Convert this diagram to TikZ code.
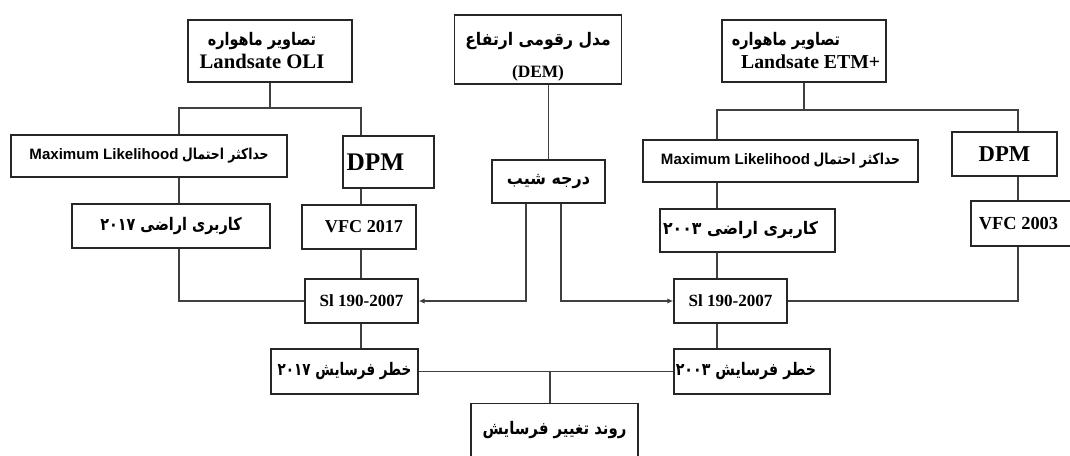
\documentclass[tikz,border=0pt]{standalone}
\usepackage{fontspec}
\usepackage{graphicx}
\setmainfont{Liberation Serif}
\newfontfamily\fa[Script=Arabic]{DejaVu Sans}
\newfontfamily\lsans{Liberation Sans}
\TeXXeTstate=1
\usetikzlibrary{arrows.meta}
\newcommand{\fab}[2]{\scalebox{#1}[1]{\fa\bfseries #2}}
\begin{document}
\begin{tikzpicture}[x=0.75pt,y=-0.75pt,
  bx/.style 2 args={draw=black!85, line width=1pt, inner sep=0pt, align=center,
     minimum width=#1*0.75pt, minimum height=#2*0.75pt},
  ln/.style={draw=black!75, line width=0.9pt},
  arr/.style={ln, -{Latex[length=4.5pt,width=4pt]}},
]
\useasboundingbox (0,0) rectangle (1070,456);
\clip (0,0) rectangle (1070,456);

% top row
\node[bx={164}{62}, font=\fontsize{13}{17.25}\selectfont] (oli) at (270,51)
  {\fab{0.83}{\beginR تصاویر ماهواره\endR}\hspace*{12pt}\\
   \fontsize{15.5}{17.25}\selectfont\bfseries Landsate OLI\hspace*{12pt}};
\node[bx={167}{69}, font=\fontsize{13}{24}\selectfont] (dem) at (538,49.5)
  {\rule{0pt}{21pt}\fab{0.9}{\beginR مدل رقومی ارتفاع\endR}\\
   \fontsize{13}{24}\selectfont\bfseries (DEM)};
\node[bx={164}{62}, font=\fontsize{13}{17.25}\selectfont] (etm) at (804,51)
  {\fab{0.83}{\beginR تصاویر ماهواره\endR}\hspace*{27pt}\\
   \fontsize{14.8}{17.25}\selectfont\hspace*{10pt}\bfseries Landsate ETM+};

% second row
\node[bx={276}{42}, font=\fontsize{11.3}{12}\selectfont] (mlL) at (149,156)
  {{\lsans\bfseries Maximum Likelihood} \fab{0.82}{\beginR حداکثر احتمال\endR}};
\node[bx={91}{52}, font=\fontsize{19}{19}\selectfont] (dpmL) at (388.5,162)
  {\bfseries DPM\hspace*{19.5pt}};
\node[bx={113}{43}, font=\fontsize{13}{13}\selectfont] (slope) at (548.5,181.5)
  {\fab{0.92}{\beginR درجه شیب\endR}};
\node[bx={275}{42}, font=\fontsize{11.3}{12}\selectfont] (mlR) at (780.5,161)
  {{\lsans\bfseries Maximum Likelihood} \fab{0.82}{\beginR حداکثر احتمال\endR}};
\node[bx={105}{44}, font=\fontsize{17}{17}\selectfont] (dpmR) at (1004.5,154)
  {\bfseries DPM};

% third row
\node[bx={198}{44}, font=\fontsize{13}{13}\selectfont] (luL) at (171,226)
  {\fab{0.83}{\beginR کاربری اراضی ۲۰۱۷\endR}};
\node[bx={114}{44}, font=\fontsize{13.6}{14}\selectfont] (vfcL) at (359,227)
  {\hspace*{7.5pt}\bfseries VFC 2017};
\node[bx={175}{43}, font=\fontsize{13}{13}\selectfont] (luR) at (747.5,230.5)
  {\fab{0.91}{\beginR کاربری اراضی ۲۰۰۳\endR}\hspace*{10.5pt}};
\node[bx={139}{45}, font=\fontsize{13.8}{14}\selectfont] (vfcR) at (1040.5,223.5)
  {\bfseries VFC 2003\hspace*{33pt}};

% SI row
\node[bx={113}{44}, font=\fontsize{12.8}{13}\selectfont] (siL) at (361.5,301)
  {\bfseries Sl 190-2007};
\node[bx={113}{44}, font=\fontsize{12.8}{13}\selectfont] (siR) at (730.5,301)
  {\bfseries Sl 190-2007};

% risk row
\node[bx={147}{45}, font=\fontsize{13}{13}\selectfont] (riskL) at (344.5,371.5)
  {\fab{0.78}{\beginR خطر فرسایش ۲۰۱۷\endR}};
\node[bx={156}{45}, font=\fontsize{13}{13}\selectfont] (riskR) at (752,371.5)
  {\fab{0.82}{\beginR خطر فرسایش ۲۰۰۳\endR}\hspace*{9pt}};

% final
\node[bx={167}{70}, anchor=north] (trend) at (554.5,403) {};
\node[inner sep=0pt, font=\fontsize{13}{13}\selectfont] (trendtext) at (554.5,430)
  {\fab{0.86}{\beginR روند تغییر فرسایش\endR}};

% bus coordinates
\coordinate (bL1) at (179,108);
\coordinate (bL2) at (361,108);
\coordinate (bR1) at (717,110);
\coordinate (bR2) at (1018,110);
\coordinate (sa) at (526,0);
\coordinate (sb) at (561,0);
\coordinate (tj) at (550,371.5);

% left branch
\draw[ln] (oli.south) -- (oli.south |- bL1);
\draw[ln] (bL1 |- mlL.north) -- (bL1) -- (bL2) -- (bL2 |- dpmL.north);
\draw[ln] (bL1 |- mlL.south) -- (bL1 |- luL.north);
\draw[ln] (bL2 |- dpmL.south) -- (bL2 |- vfcL.north);
\draw[ln] (bL1 |- luL.south) |- (siL.west);
\draw[ln] (bL2 |- vfcL.south) -- (bL2 |- siL.north);
\draw[ln] (bL2 |- siL.south) -- (bL2 |- riskL.north);

% DEM branch
\draw[ln] (slope.north |- dem.south) -- (slope.north);
\draw[arr] (sa |- slope.south) |- (siL.east);
\draw[arr] (sb |- slope.south) |- (siR.west);

% right branch
\draw[ln] (etm.south) -- (etm.south |- bR1);
\draw[ln] (bR1 |- mlR.north) -- (bR1) -- (bR2) -- (bR2 |- dpmR.north);
\draw[ln] (bR1 |- mlR.south) -- (bR1 |- luR.north);
\draw[ln] (bR2 |- dpmR.south) -- (bR2 |- vfcR.north);
\draw[ln] (bR1 |- luR.south) -- (bR1 |- siR.north);
\draw[ln] (bR2 |- vfcR.south) |- (siR.east);
\draw[ln] (bR1 |- siR.south) -- (bR1 |- riskR.north);

% bottom
\draw[ln] (riskL.east) -- (riskR.west);
\draw[ln] (tj) -- (tj |- trend.north);
\end{tikzpicture}
\end{document}
